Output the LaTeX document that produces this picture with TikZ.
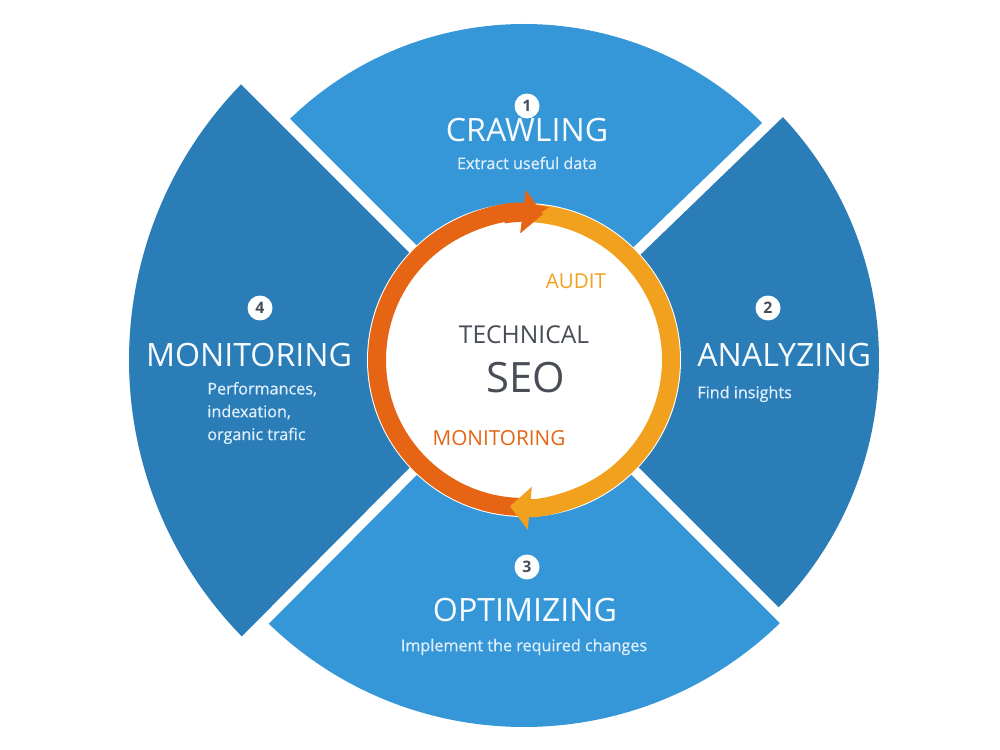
\documentclass[tikz,border=0pt]{standalone}
\usepackage{fontspec}
\setmainfont{Open Sans}
\newfontfamily\notefont{Open Sans}[FakeBold=0.7]
\usepackage{xcolor}
\usetikzlibrary{arrows.meta}
\definecolor{seolight}{RGB}{53,151,216}
\definecolor{seodark}{RGB}{42,125,183}
\definecolor{seoorange}{RGB}{229,101,20}
\definecolor{seoamber}{RGB}{242,161,30}
\definecolor{seogray}{RGB}{72,77,86}
\definecolor{seotext}{RGB}{222,238,250}

\begin{document}
\begin{tikzpicture}[x=0.02cm,y=-0.02cm,
  gap/.style={draw=white,line width=0.2cm},
  ring/.style={line width=0.36cm,-{Triangle[length=0.4cm,width=0.84cm]}},
  stage/.style={font=\fontsize{18.3}{22}\selectfont,text=white!96!seolight,inner sep=0pt},
  detail/.style={font=\notefont\fontsize{9.2}{13}\selectfont,text=seotext,inner sep=0pt},
  badge/.style={circle,fill=white,minimum size=0.5cm,inner sep=0pt,font=\fontsize{9}{9}\selectfont\bfseries,text=seogray},
  hubtext/.style={text=seogray,inner sep=0pt}]

\path[use as bounding box] (0,0) rectangle (1000,750);
\coordinate (hub) at (524,360);
% four segments, each on its own radius
\fill[seolight] (hub) -- ++(225:336) arc[start angle=225,end angle=316,radius=336] -- cycle;
\fill[seodark] (hub) -- ++(316:355) arc[start angle=316,end angle=405,radius=355] -- cycle;
\fill[seolight] (hub) -- ++(45:367) arc[start angle=45,end angle=134.85,radius=367] -- cycle;
\fill[seodark] (hub) -- ++(134.85:395) arc[start angle=134.85,end angle=225,radius=395] -- cycle;
\foreach \ang in {45,134.85,225,316}
  \draw[gap] (hub) -- ++(\ang:430);
\fill[white] (hub) circle[radius=157];
% cycle ring
\draw[ring,draw=seoorange] (hub) ++(88:147) arc[start angle=88,end angle=277.4,radius=147];
\draw[ring,draw=seoamber] (hub) ++(272:147) arc[start angle=272,end angle=455.5,radius=147];
\draw[ring,draw=seoorange] (hub) ++(262:147) arc[start angle=262,end angle=277.4,radius=147];

\node[hubtext,font=\fontsize{14}{16}\selectfont] (tech) at (524,335) {TECHNICAL};
\node[hubtext,font=\fontsize{23.8}{26}\selectfont] (seo) at (526,378) {SEO};
\node[inner sep=0pt,font=\fontsize{11.7}{14}\selectfont,text=seoamber] (audit) at (576,281) {AUDIT};
\node[inner sep=0pt,font=\fontsize{11.8}{14}\selectfont,text=seoorange] (monitor) at (499,438) {MONITORING};

\node[badge] (n1) at (527,106) {1};
\node[stage] (crawl) at (527,130) {CRAWLING};
\node[detail] (crawlnote) at (527,163) {Extract useful data};
\node[badge] (n2) at (768,308) {2};
\node[stage,anchor=west] (analyze) at (697,355) {ANALYZING};
\node[detail,anchor=west] (analyzenote) at (697,394) {Find insights};
\node[badge] (n3) at (527,567) {3};
\node[stage] (optim) at (525,610) {OPTIMIZING};
\node[detail] (optimnote) at (524,647) {Implement the required changes};
\node[badge] (n4) at (260,308) {4};
\node[stage] (monit) at (249,355) {MONITORING};
\node[detail,align=left,anchor=west] (monitnote) at (207,413) {Performances,\\indexation,\\organic trafic};

\end{tikzpicture}
\end{document}
